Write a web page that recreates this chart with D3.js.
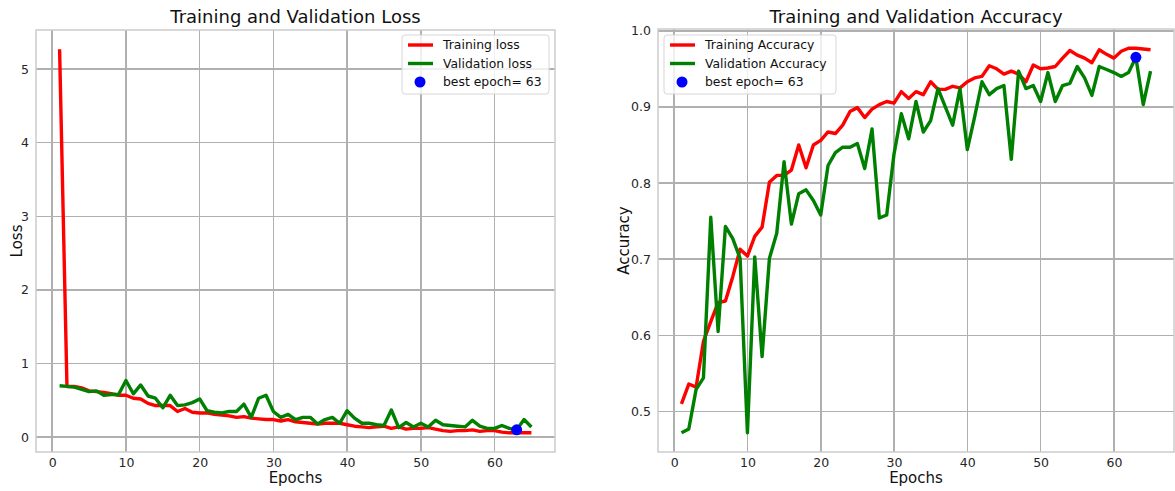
<!DOCTYPE html>
<html lang="en">
<head>
<meta charset="utf-8">
<title>Training and Validation</title>
<script src="https://cdn.jsdelivr.net/npm/d3@7"></script>
<style>
  body { margin: 0; background: white; font-family: "DejaVu Sans", sans-serif; }
  .grid line { stroke: #b0b0b0; stroke-width: 1.6; shape-rendering: crispEdges; }
  .frame { fill: none; stroke: #cccccc; stroke-width: 1.5; }
  .axis path { display: none; }
  .axis text { font-family: "DejaVu Sans", sans-serif; font-size: 12.5px; fill: #262626; }
  .title { font-size: 18px; fill: #111; text-anchor: middle; }
  .alabel { font-size: 15px; fill: #111; text-anchor: middle; }
  .legend text { font-size: 12.4px; fill: #111; }
</style>
</head>
<body>
<script>
var epochs = d3.range(1, 66);

var trainLoss = [5.27, 0.69, 0.69, 0.67, 0.63, 0.62, 0.61, 0.59, 0.57, 0.57,
  0.53, 0.52, 0.46, 0.43, 0.43, 0.43, 0.35, 0.39, 0.34, 0.33,
  0.33, 0.31, 0.30, 0.29, 0.27, 0.28, 0.26, 0.25, 0.24, 0.24,
  0.22, 0.24, 0.21, 0.20, 0.19, 0.18, 0.19, 0.19, 0.19, 0.17,
  0.15, 0.14, 0.13, 0.14, 0.15, 0.12, 0.14, 0.11, 0.12, 0.12,
  0.13, 0.11, 0.09, 0.08, 0.09, 0.09, 0.10, 0.08, 0.09, 0.09,
  0.07, 0.06, 0.06, 0.06, 0.06];

var valLoss = [0.70, 0.69, 0.68, 0.65, 0.62, 0.63, 0.57, 0.58, 0.58, 0.77,
  0.59, 0.71, 0.56, 0.53, 0.40, 0.57, 0.43, 0.44, 0.47, 0.52,
  0.36, 0.34, 0.33, 0.35, 0.35, 0.45, 0.27, 0.53, 0.57, 0.35,
  0.27, 0.31, 0.24, 0.27, 0.27, 0.18, 0.24, 0.27, 0.19, 0.36,
  0.26, 0.19, 0.19, 0.17, 0.16, 0.37, 0.13, 0.20, 0.14, 0.19,
  0.14, 0.23, 0.17, 0.16, 0.15, 0.14, 0.23, 0.15, 0.12, 0.12,
  0.16, 0.12, 0.10, 0.24, 0.14];

var trainAcc = [0.510, 0.536, 0.532, 0.592, 0.618, 0.643, 0.645, 0.677, 0.713, 0.704,
  0.730, 0.742, 0.801, 0.810, 0.810, 0.817, 0.850, 0.820, 0.850, 0.856,
  0.867, 0.865, 0.876, 0.894, 0.899, 0.886, 0.897, 0.903, 0.907, 0.905,
  0.920, 0.911, 0.920, 0.916, 0.933, 0.923, 0.923, 0.927, 0.925, 0.933,
  0.938, 0.940, 0.954, 0.950, 0.943, 0.947, 0.943, 0.933, 0.955, 0.950,
  0.951, 0.953, 0.964, 0.974, 0.968, 0.964, 0.958, 0.975, 0.969, 0.964,
  0.973, 0.977, 0.977, 0.976, 0.975];

var valAcc = [0.472, 0.477, 0.529, 0.544, 0.755, 0.605, 0.743, 0.727, 0.701, 0.472,
  0.703, 0.572, 0.701, 0.734, 0.828, 0.746, 0.786, 0.791, 0.777, 0.758,
  0.823, 0.840, 0.847, 0.847, 0.852, 0.819, 0.871, 0.754, 0.758, 0.838,
  0.891, 0.858, 0.907, 0.867, 0.882, 0.924, 0.900, 0.876, 0.924, 0.844,
  0.887, 0.933, 0.916, 0.924, 0.928, 0.831, 0.947, 0.924, 0.928, 0.907,
  0.945, 0.907, 0.928, 0.931, 0.953, 0.938, 0.915, 0.953, 0.949, 0.945,
  0.940, 0.945, 0.965, 0.903, 0.947];

var bestEpoch = 63;
var xTicks = [0, 10, 20, 30, 40, 50, 60];
var lossTicks = [0, 1, 2, 3, 4, 5];
var accTicks = [0.5, 0.6, 0.7, 0.8, 0.9, 1.0];

var svg = d3.select("body").append("svg")
  .attr("width", 1175)
  .attr("height", 491);

// matplotlib style 5% padding
function padded(vals) {
  var ext = d3.extent(vals);
  var m = (ext[1] - ext[0]) * 0.05;
  return [ext[0] - m, ext[1] + m];
}

function drawPanel(p) {
  var g = svg.append("g");
  var x = d3.scaleLinear().domain(padded(epochs)).range([p.left, p.right]);
  var y = d3.scaleLinear().domain(padded(p.train.concat(p.val))).range([p.bottom, p.top]);

  // grid
  var grid = g.append("g").attr("class", "grid");
  grid.selectAll("line.v").data(p.xTicks).enter().append("line")
    .attr("x1", d => x(d)).attr("x2", d => x(d))
    .attr("y1", p.top).attr("y2", p.bottom);
  grid.selectAll("line.h").data(p.yTicks.filter(d => y(d) >= p.top - 1)).enter().append("line")
    .attr("x1", p.left).attr("x2", p.right)
    .attr("y1", d => y(d)).attr("y2", d => y(d));

  g.append("rect").attr("class", "frame")
    .attr("x", p.left).attr("y", p.top)
    .attr("width", p.right - p.left).attr("height", p.bottom - p.top);

  g.append("g").attr("class", "axis")
    .attr("transform", "translate(0," + p.bottom + ")")
    .call(d3.axisBottom(x).tickValues(p.xTicks).tickSize(0).tickPadding(6));

  g.append("g").attr("class", "axis")
    .attr("transform", "translate(" + p.left + ",0)")
    .call(d3.axisLeft(y).tickValues(p.yTicks).tickSize(0).tickPadding(7).tickFormat(p.yFormat));

  var line = d3.line().x((d, i) => x(epochs[i])).y(d => y(d));

  g.append("path").datum(p.train)
    .attr("d", line).attr("fill", "none")
    .attr("stroke", "red").attr("stroke-width", 3.4).attr("stroke-linejoin", "round");
  g.append("path").datum(p.val)
    .attr("d", line).attr("fill", "none")
    .attr("stroke", "green").attr("stroke-width", 3.4).attr("stroke-linejoin", "round");

  g.append("circle")
    .attr("cx", x(bestEpoch)).attr("cy", y(p.val[bestEpoch - 1]))
    .attr("r", 5.5).attr("fill", "blue");

  g.append("text").attr("class", "title")
    .attr("x", (p.left + p.right) / 2).attr("y", 23)
    .text(p.title);
  g.append("text").attr("class", "alabel")
    .attr("x", (p.left + p.right) / 2).attr("y", 483)
    .text("Epochs");
  g.append("text").attr("class", "alabel")
    .attr("transform", "translate(" + p.ylabelX + "," + ((p.top + p.bottom) / 2) + ") rotate(-90)")
    .text(p.ylabel);

  // legend
  var lg = g.append("g").attr("class", "legend");
  lg.append("rect")
    .attr("x", p.legX).attr("y", 35)
    .attr("width", p.legW).attr("height", 59)
    .attr("rx", 3)
    .attr("fill", "white").attr("fill-opacity", 0.8)
    .attr("stroke", "#d6d6d6");
  var items = [
    { label: p.names[0], color: "red", kind: "line" },
    { label: p.names[1], color: "green", kind: "line" },
    { label: "best epoch= " + bestEpoch, color: "blue", kind: "dot" }
  ];
  items.forEach(function(it, i) {
    var yy = 45 + i * 18.5;
    if (it.kind === "line") {
      lg.append("line")
        .attr("x1", p.legX + 6).attr("x2", p.legX + 31)
        .attr("y1", yy).attr("y2", yy)
        .attr("stroke", it.color).attr("stroke-width", 3.4);
    } else {
      lg.append("circle")
        .attr("cx", p.legX + 18).attr("cy", yy)
        .attr("r", 5.5).attr("fill", it.color);
    }
    lg.append("text")
      .attr("x", p.legX + 41).attr("y", yy).attr("dy", "0.35em")
      .text(it.label);
  });
}

drawPanel({
  left: 36, right: 555, top: 30, bottom: 452,
  train: trainLoss, val: valLoss,
  xTicks: xTicks, yTicks: lossTicks, yFormat: d3.format("d"),
  title: "Training and Validation Loss",
  ylabel: "Loss", ylabelX: 22,
  names: ["Training loss", "Validation loss"],
  legX: 402, legW: 147
});

drawPanel({
  left: 658, right: 1174, top: 29, bottom: 452,
  train: trainAcc, val: valAcc,
  xTicks: xTicks, yTicks: accTicks, yFormat: d3.format(".1f"),
  title: "Training and Validation Accuracy",
  ylabel: "Accuracy", ylabelX: 629,
  names: ["Training Accuracy", "Validation Accuracy"],
  legX: 664, legW: 172
});
</script>
</body>
</html>
